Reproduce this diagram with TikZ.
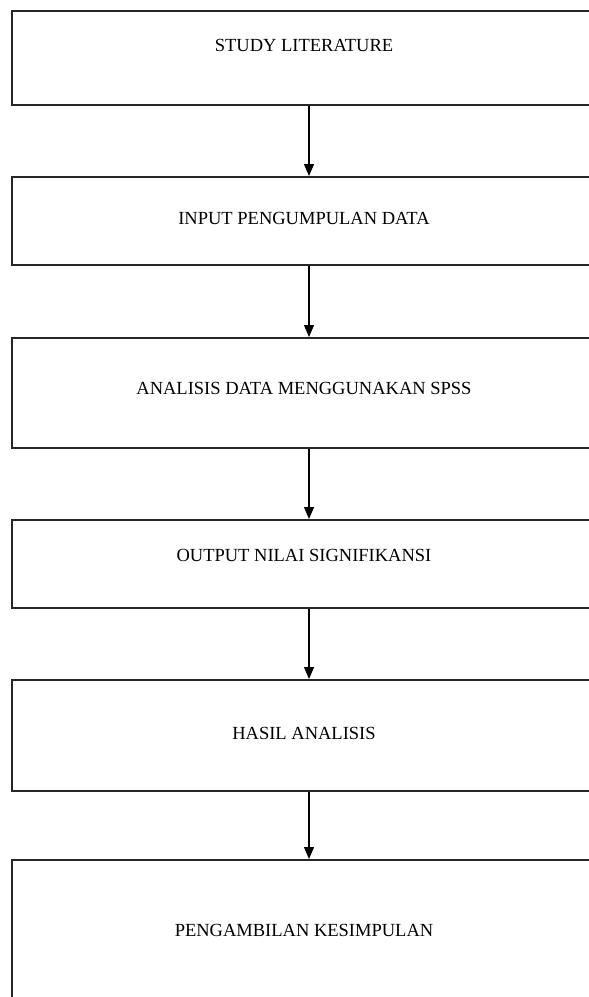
\documentclass[tikz,border=0pt]{standalone}
\usepackage{fontspec}
\setmainfont{Liberation Serif}
\usetikzlibrary{arrows.meta}
\tikzset{
  box/.style={draw=black!85, line width=1.8pt, rectangle, anchor=north west, minimum width=640pt, inner sep=0pt},
  lbl/.style={font=\fontsize{18.5}{21}\selectfont, inner sep=0pt, text=black},
  arr/.style={line width=1.3pt, -{Triangle[width=10pt,length=12pt]}}
}
\begin{document}
\begin{tikzpicture}[x=1pt,y=1pt]
\useasboundingbox (0,0) rectangle (589,-997);
\clip (0,0) rectangle (589,-997);
\fill[white] (0,0) rectangle (589,-997);
\node[box, minimum height=94pt] (b1) at (11,-10) {};
\node[box, minimum height=88pt] (b2) at (11,-176) {};
\node[box, minimum height=110pt] (b3) at (11,-337) {};
\node[box, minimum height=88pt] (b4) at (11,-519) {};
\node[box, minimum height=111pt] (b5) at (11,-679) {};
\node[box, minimum height=200pt] (b6) at (11,-859) {};
\node[lbl] (t1) at (304,-45) {STUDY LITERATURE};
\node[lbl] (t2) at (304,-218) {INPUT PENGUMPULAN DATA};
\node[lbl] (t3) at (304,-388) {ANALISIS DATA MENGGUNAKAN SPSS};
\node[lbl] (t4) at (304,-555) {OUTPUT NILAI SIGNIFIKANSI};
\node[lbl] (t5) at (304,-733) {HASIL ANALISIS};
\node[lbl] (t6) at (304,-930) {PENGAMBILAN KESIMPULAN};
\coordinate (ax) at (309,0);
\draw[arr] (b1.south -| ax) -- (b2.north -| ax);
\draw[arr] (b2.south -| ax) -- (b3.north -| ax);
\draw[arr] (b3.south -| ax) -- (b4.north -| ax);
\draw[arr] (b4.south -| ax) -- (b5.north -| ax);
\draw[arr] (b5.south -| ax) -- (b6.north -| ax);
\end{tikzpicture}
\end{document}
